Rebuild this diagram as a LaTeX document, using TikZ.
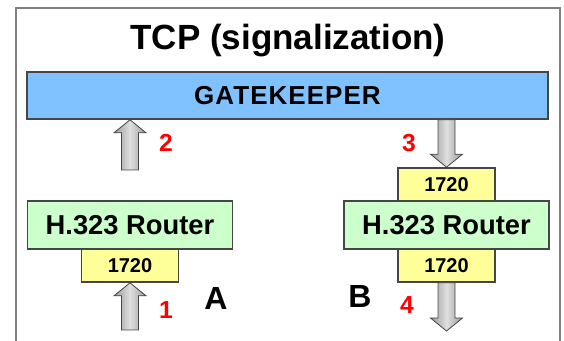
\documentclass[tikz,border=0pt]{standalone}
\usepackage{fontspec}
\setmainfont{Liberation Sans}
\usetikzlibrary{calc}
\newdimen\px \px=0.75pt
\definecolor{gkblue}{RGB}{128,194,255}
\definecolor{rtgreen}{RGB}{204,255,204}
\definecolor{ptyellow}{RGB}{255,255,153}
\definecolor{frameg}{RGB}{128,128,128}
\definecolor{edge}{RGB}{70,70,70}
\tikzset{
  box/.style={draw=edge, line width=1.2pt, inner sep=0pt, font=\bfseries},
  gkbox/.style={box, fill=gkblue, minimum width=521*\px, minimum height=47*\px,
     font=\fontsize{19.5}{23}\selectfont\bfseries\addfontfeature{LetterSpace=4}},
  router/.style={box, fill=rtgreen, minimum width=205*\px, minimum height=48*\px,
     font=\fontsize{20.5}{24}\selectfont\bfseries},
  port/.style={box, fill=ptyellow, minimum width=97*\px, minimum height=33*\px,
     font=\fontsize{15}{18}\selectfont\bfseries},
  numlbl/.style={text=red, inner sep=0pt, font=\fontsize{18.5}{22}\selectfont\bfseries},
  sidelbl/.style={inner sep=0pt, font=\fontsize{24}{28}\selectfont\bfseries},
  arrowsty/.style={draw=gray!55!black, line width=0.6pt, left color=gray!80, right color=gray!80, middle color=gray!25},
}
% #1 = tail coordinate, #2 = tip coordinate (vertical arrows only), #3 = +1 for up, -1 for down
\newcommand\blockarr[3]{%
  \path[arrowsty] ($(#1)+(-8.5,0)$) -- ($(#2)+(-8.5,#3*13)$) -- ($(#2)+(-16,#3*13)$) -- (#2)
    -- ($(#2)+(16,#3*13)$) -- ($(#2)+(8.5,#3*13)$) -- ($(#1)+(8.5,0)$) -- cycle;}
\begin{document}
\begin{tikzpicture}[x=\px, y=-\px]
\useasboundingbox (0,0) rectangle (564,341);
% frame
\draw[frameg, line width=1.6pt] (16,345) -- (16,8) -- (560,8) -- (560,345);
% title
\node[anchor=base, inner sep=0pt, font=\fontsize{26.25}{30}\selectfont\bfseries] (title) at (288,50) {TCP (signalization)};
% gatekeeper
\node[gkbox] (gk) at (287.5,95.5) {GATEKEEPER};
% router A
\node[router] (rA) at (130,225) {H.323 Router};
\node[port] (pA) at (130,265.5) {1720};
% router B
\node[router] (rB) at (446.5,225) {H.323 Router};
\node[port] (pB1) at (446.5,184.5) {1720};
\node[port] (pB2) at (446.5,265.5) {1720};
% arrow anchors
\coordinate (a2b) at (130,170);
\coordinate (a2t) at (a2b |- gk.south);
\coordinate (a1b) at (130,330);
\coordinate (a3s) at (pB1.north |- gk.south);
\coordinate (a4e) at (446.5,331);
% arrows
\blockarr{a1b}{pA.south}{1}
\blockarr{a2b}{a2t}{1}
\blockarr{a3s}{pB1.north}{-1}
\blockarr{pB2.south}{a4e}{-1}
% labels
\node[numlbl] (l1) at (166,310) {1};
\node[numlbl] (l2) at (166,143) {2};
\node[numlbl] (l3) at (409,143) {3};
\node[numlbl] (l4) at (407,305) {4};
\node[sidelbl] (lA) at (216,298) {A};
\node[sidelbl] (lB) at (360,296) {B};
\end{tikzpicture}
\end{document}
